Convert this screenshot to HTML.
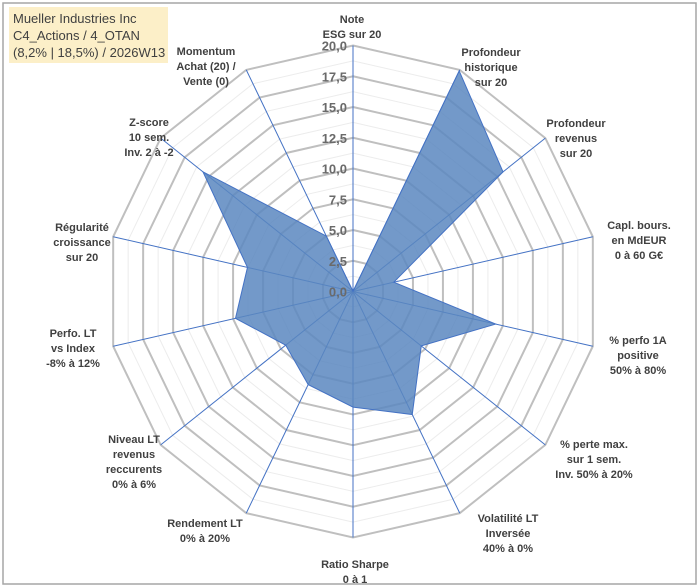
<!DOCTYPE html>
<html><head><meta charset="utf-8"><style>
html,body{margin:0;padding:0;background:#fff;width:700px;height:587px;overflow:hidden}
svg text{font-family:"Liberation Sans",sans-serif}
.lbl{font-size:11px;font-weight:bold;fill:#404040;text-anchor:middle}
.tick{font-size:13px;font-weight:bold;fill:#6a6a6a;text-anchor:end}
</style></head><body>
<svg id="chart" width="700" height="587" xmlns="http://www.w3.org/2000/svg">
<rect x="0" y="0" width="700" height="587" fill="#fff"/>
<rect x="3" y="3" width="693" height="581" fill="none" stroke="#a6a6a6" stroke-width="1.5"/>
<g id="grid"></g><g id="axes"></g><g id="series"></g><g id="ticks"></g><g id="labels"></g>
<g>
<rect x="9" y="7" width="159" height="56" fill="#fcefc8"/>
<text x="13" y="23" style="font-size:13px;fill:#404040">Mueller Industries Inc</text>
<text x="13" y="40" style="font-size:13px;fill:#404040">C4_Actions / 4_OTAN</text>
<text x="13" y="57" style="font-size:13px;fill:#404040">(8,2% | 18,5%) / 2026W13</text>
</g>
</svg>
<script>
const categories=[["Note","ESG sur 20"],["Profondeur","historique","sur 20"],["Profondeur","revenus","sur 20"],["Capl. bours.","en MdEUR","0 à 60 G€"],["% perfo 1A","positive","50% à 80%"],["% perte max.","sur 1 sem.","Inv. 50% à 20%"],["Volatilité LT","Inversée","40% à 0%"],["Ratio Sharpe","0 à 1"],["Rendement LT","0% à 20%"],["Niveau LT","revenus","reccurents","0% à 6%"],["Perfo. LT","vs Index","-8% à 12%"],["Régularité","croissance","sur 20"],["Z-score","10 sem.","Inv. 2 à -2"],["Momentum","Achat (20) /","Vente (0)"]];
const values=[0,19.9,15.6,3.4,11.9,7.1,11.1,9.4,8.4,7.0,9.8,8.8,15.6,5.0];
const tickLabels=["0,0","2,5","5,0","7,5","10,0","12,5","15,0","17,5","20,0"];
const labelPos=[[352,16],[491,49],[576,120],[639,222],[638,337],[594,441],[508,515],[355,561],[205,520],[134,436],[73,330],[82,224],[149,119],[206,48]];
const cx=353,cy=291.5,R=246,maxV=20,N=categories.length;
const NS="http://www.w3.org/2000/svg";
function ang(i){return i*2*Math.PI/N;}
function pt(i,v){const r=v/maxV*R;return [cx+r*Math.sin(ang(i)),cy-r*Math.cos(ang(i))];}
function mk(tag,attrs,parent){const e=document.createElementNS(NS,tag);for(const k in attrs)e.setAttribute(k,attrs[k]);parent.appendChild(e);return e;}
const grid=document.getElementById('grid');
for(let k=1;k<=16;k++){const v=k*1.25;const pts=[];for(let i=0;i<N;i++)pts.push(pt(i,v).join(','));
const major=k%2===0;
const p=mk('polygon',{points:pts.join(' '),fill:'none',stroke:major?'#bfbfbf':'#ececec','stroke-width':major?2:1},grid);

}
const axes=document.getElementById('axes');
for(let i=0;i<N;i++){const [x,y]=pt(i,maxV);
const l=mk('line',{x1:cx,y1:cy,x2:x,y2:y,stroke:'#4472c4','stroke-width':1},axes);

}
const ser=document.getElementById('series');
const sp=values.map((v,i)=>pt(i,v).join(',')).join(' ');
const poly=mk('polygon',{points:sp,fill:'#5b87bf','fill-opacity':0.85,stroke:'#4472c4','stroke-width':1},ser);


const ticks=document.getElementById('ticks');
tickLabels.forEach((t,k)=>{const y=cy-k*2.5/maxV*R;
const e=mk('text',{x:cx-6,y:y+5,class:'tick'},ticks);e.textContent=t;

});
const labels=document.getElementById('labels');
categories.forEach((c,i)=>{const g=mk('text',{class:'lbl'},labels);


c.forEach((line,j)=>{const ts=mk('tspan',{x:labelPos[i][0],y:labelPos[i][1]+7+j*15},g);ts.textContent=line;});});
</script>
</body></html>
